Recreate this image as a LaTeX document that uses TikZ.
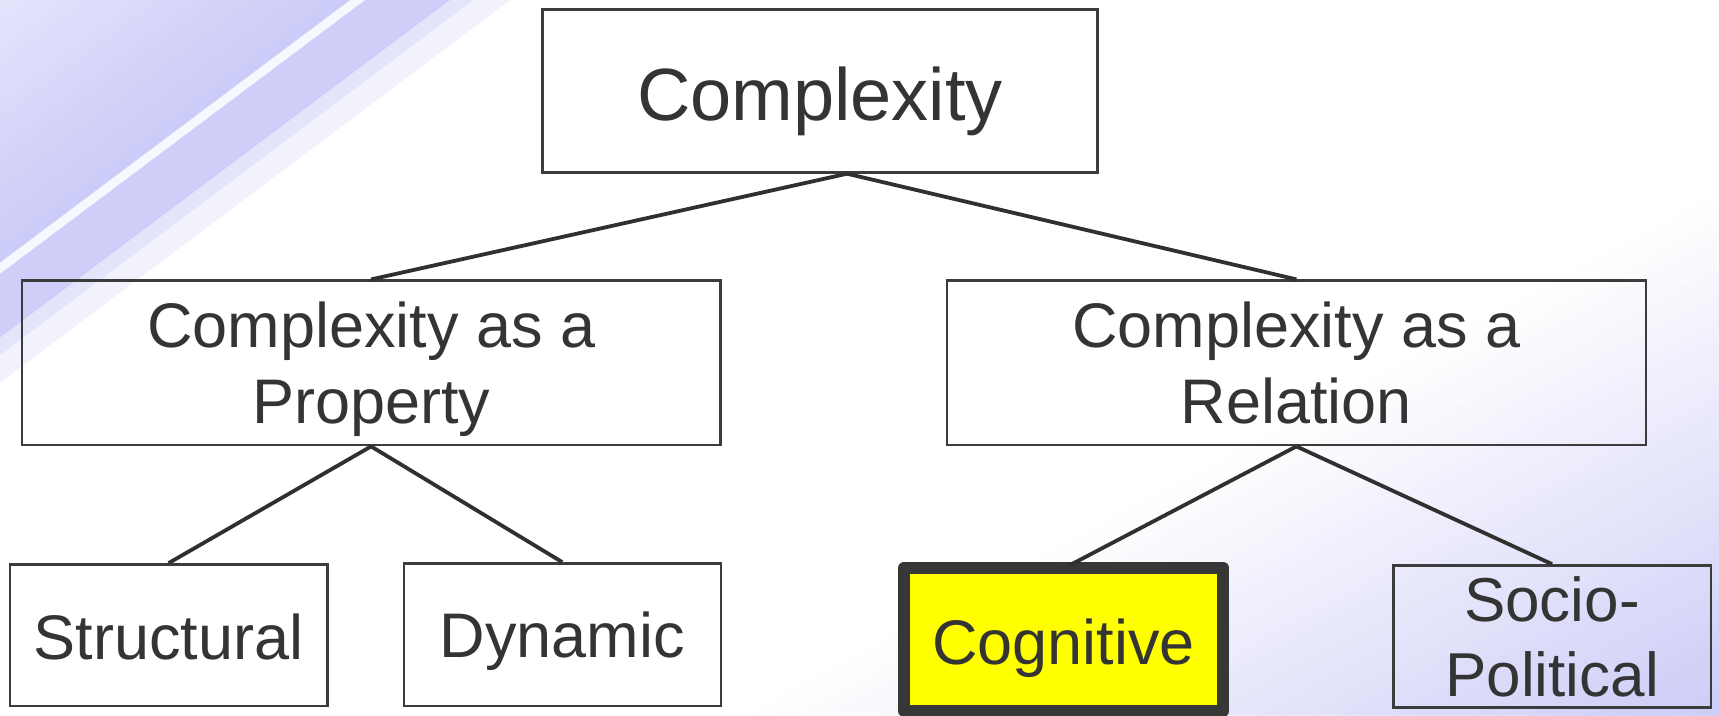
\documentclass[tikz,border=0pt]{standalone}
\usepackage{fontspec}
\setmainfont{Liberation Sans}
\definecolor{txt}{RGB}{52,52,52}
\definecolor{linec}{RGB}{48,48,48}
\definecolor{boxc}{RGB}{60,60,60}
\definecolor{cogc}{RGB}{55,55,55}
\definecolor{lavC}{RGB}{204,204,247}
\definecolor{tlS}{RGB}{203,203,248}
\definecolor{tlL}{RGB}{228,228,252}
\definecolor{tlA}{RGB}{242,242,253}
\definecolor{tlB}{RGB}{228,228,251}
\definecolor{tlC}{RGB}{206,206,248}
\definecolor{tlW}{RGB}{247,247,254}
\definecolor{cogfill}{RGB}{255,255,0}
\begin{document}
\begin{tikzpicture}[x=1pt,y=-1pt,
  box/.style={draw=boxc, line width=2.4pt, rectangle, inner sep=0pt, text=txt},
  cogbox/.style={draw=cogc, fill=cogfill, line width=12pt, line join=round, rectangle, inner sep=0pt, text=txt},
  link/.style={draw=linec, line width=3.8pt},
  bigfont/.style={font=\fontsize{74}{89}\selectfont},
  midfont/.style={font=\fontsize{63}{76.5}\selectfont},
  smallfont/.style={font=\fontsize{63}{75}\selectfont},
  sociofont/.style={font=\fontsize{62}{75}\selectfont}]
\useasboundingbox (0,0) rectangle (1719,715);
\begin{scope}
  \clip (0,0) rectangle (1719,715);
  \fill[white] (0,0) rectangle (1719,715);
  % bottom-right gradient
  \foreach \i in {36,35,...,1} {
    \pgfmathsetmacro\c{\i*12.7778}
    \pgfmathsetmacro\m{100-(\i-0.5)*2.7778}
    \fill[lavC!\m!white] (1719,715) -- ({1719-\c/0.472},715) -- (1719,{715-\c/0.881}) -- cycle;
  }
  % top-left stripes
  \fill[tlA] (0,0) -- ({306/0.6},0) -- (0,{306/0.8}) -- cycle;
  \fill[tlB] (0,0) -- ({284/0.6},0) -- (0,{284/0.8}) -- cycle;
  \fill[tlC] (0,0) -- ({270/0.6},0) -- (0,{270/0.8}) -- cycle;
  \fill[tlW] (0,0) -- ({219/0.6},0) -- (0,{219/0.8}) -- cycle;
  \foreach \i in {20,19,...,1} {
    \pgfmathsetmacro\c{10.5*\i}
    \pgfmathsetmacro\p{5*(\i-0.5)}
    \fill[tlS!\p!tlL] (0,0) -- ({\c/0.6},0) -- (0,{\c/0.8}) -- cycle;
  }
\end{scope}

% boxes
\node[box, bigfont, minimum width=555pt, minimum height=163pt, text height=58pt, text depth=0pt] (top) at (820,91) {Complexity};
\node[box, midfont, minimum width=698.6pt, minimum height=164.6pt, text height=45pt, text depth=76.5pt] (midL) at (371.1,362.9)
  {\begin{tabular}[t]{@{}c@{}}Complexity as a\\Property\end{tabular}};
\node[box, midfont, minimum width=698.6pt, minimum height=164.6pt, text height=45pt, text depth=76.5pt] (midR) at (1296.4,362.9)
  {\begin{tabular}[t]{@{}c@{}}Complexity as a\\Relation\end{tabular}};
\node[box, smallfont, minimum width=317.5pt, minimum height=141.4pt, text height=48pt, text depth=0pt] (struct) at (168.6,635) {Structural};
\node[box, smallfont, minimum width=317pt, minimum height=142.4pt, text height=45pt, text depth=0pt] (dyn) at (562.2,634.5) {Dynamic};
\node[cogbox, smallfont, minimum width=318.7pt, minimum height=143.3pt, text height=50pt, text depth=0pt] (cog) at (1063.7,639.4) {Cognitive};
\node[box, sociofont, minimum width=317.4pt, minimum height=142pt, text height=44.4pt, text depth=75pt] (socio) at (1552,636.3)
  {\begin{tabular}[t]{@{}c@{}}Socio-\\Political\end{tabular}};

% connectors
\draw[link] ([xshift=27pt]top.south) -- (midL.north);
\draw[link] ([xshift=27pt]top.south) -- (midR.north);
\draw[link] (midL.south) -- (struct.north);
\draw[link] (midL.south) -- (dyn.north);
\draw[link] (midR.south) -- ([xshift=5pt,yshift=-4pt]cog.north);
\draw[link] (midR.south) -- (socio.north);
\end{tikzpicture}
\end{document}
